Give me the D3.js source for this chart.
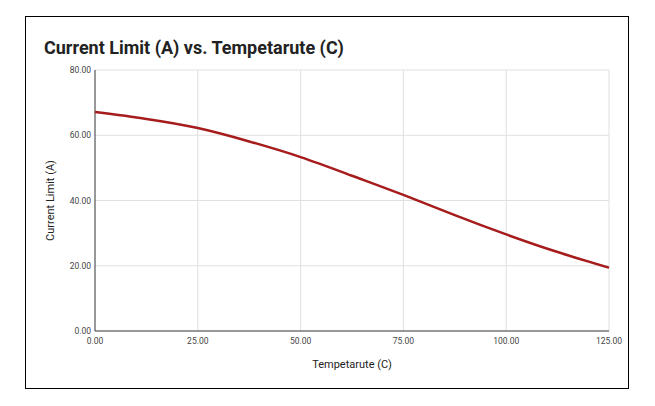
<!DOCTYPE html>
<html><head><meta charset="utf-8">
<script src="https://cdn.jsdelivr.net/npm/d3@7"></script>
<style>body{margin:0;background:#fff;font-family:Roboto,sans-serif}</style>
</head><body><div id="chart"></div>
<script>
// temperature (C) vs current limit (A)
const temps = [0, 12.5, 25, 37.5, 50, 62.5, 75, 87.5, 100, 112.5, 125];
const currents = [67.1, 65.0, 62.2, 58.1, 53.3, 47.6, 41.7, 35.5, 29.6, 24.2, 19.4];
const xTicks = [0, 25, 50, 75, 100, 125];
const yTicks = [0, 20, 40, 60, 80];

const svg = d3.select("#chart").append("svg").attr("width", 655).attr("height", 406);
svg.append("rect").attr("x", 25.5).attr("y", 16.5).attr("width", 603).attr("height", 372)
  .attr("fill", "#fff").attr("stroke", "#000").attr("stroke-width", 1);

svg.append("text").attr("x", 44).attr("y", 54).text("Current Limit (A) vs. Tempetarute (C)")
  .attr("font-size", 18).attr("font-weight", "bold").attr("fill", "#222");

const x = d3.scaleLinear().domain([0, 125]).range([95, 609]);
const y = d3.scaleLinear().domain([0, 80]).range([331, 70]);

svg.append("g").selectAll("line").data(xTicks.slice(1)).join("line")
  .attr("x1", d => x(d)).attr("x2", d => x(d)).attr("y1", y(0)).attr("y2", y(80))
  .attr("stroke", "#e0e0e0");
svg.append("g").selectAll("line").data(yTicks).join("line")
  .attr("x1", x(0)).attr("x2", x(125)).attr("y1", d => y(d)).attr("y2", d => y(d))
  .attr("stroke", d => d === 0 ? "#333" : "#e0e0e0");
svg.append("line").attr("x1", x(0)).attr("x2", x(0)).attr("y1", y(0)).attr("y2", y(80)).attr("stroke", "#333");

svg.append("g").selectAll("text").data(xTicks).join("text")
  .attr("x", d => x(d)).attr("y", 344).attr("text-anchor", "middle")
  .attr("font-size", 8.5).attr("fill", "#444").text(d => d.toFixed(2));
svg.append("g").selectAll("text").data(yTicks).join("text")
  .attr("x", 91).attr("y", d => y(d) + 3).attr("text-anchor", "end")
  .attr("font-size", 8.5).attr("fill", "#444").text(d => d.toFixed(2));

svg.append("text").attr("x", (x(0) + x(125)) / 2).attr("y", 368).attr("text-anchor", "middle")
  .attr("font-size", 11).attr("fill", "#222").text("Tempetarute (C)");
svg.append("text").attr("transform", `translate(54,${(y(0) + y(80)) / 2}) rotate(-90)`)
  .attr("text-anchor", "middle").attr("font-size", 11).attr("fill", "#222").text("Current Limit (A)");

const line = d3.line().x((d, i) => x(temps[i])).y(d => y(d)).curve(d3.curveNatural);
svg.append("path").datum(currents).attr("d", line).attr("fill", "none")
  .attr("stroke", "#a61c1c").attr("stroke-width", 2.5);
</script></body></html>
